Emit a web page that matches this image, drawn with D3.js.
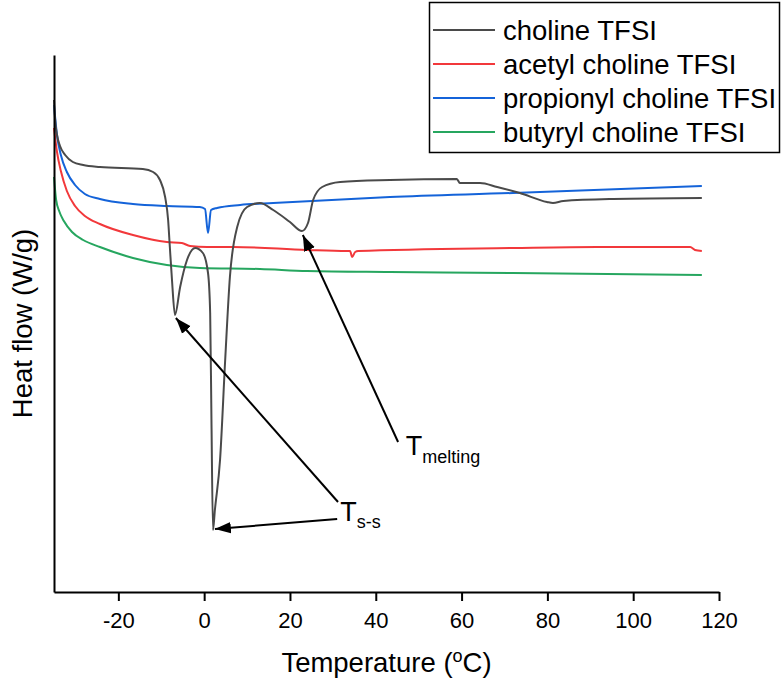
<!DOCTYPE html>
<html>
<head>
<meta charset="utf-8">
<script src="https://cdn.jsdelivr.net/npm/d3@7"></script>
<style>
  body { margin: 0; background: #fff; }
  svg { display: block; font-family: "Liberation Sans", Arial, sans-serif; }
</style>
</head>
<body>
<svg id="chart" width="783" height="679"></svg>
<script>
// DSC traces, temperature in °C, heat flow in arbitrary W/g units (no y ticks on the original)
const cholineT = [-35, -34.77, -34.3, -33.6, -32.4, -30.6, -28.2, -24.3, -14.3, -11.9, -10.3, -9.1, -8.4, -8.0, -7.5, -6.8, -5.6, -4.0, -2.1, -0.3, 0.9, 1.4, 1.7, 2.06, 2.5, 3.7, 4.9, 6.0, 7.7, 10.0, 13.0, 16.1, 20.0, 22.8, 24.2, 25.4, 27.5, 31.7, 43.3, 58.9, 59.6, 64.3, 68.3, 73.6, 79.9, 81.3, 83.7, 95.3, 116];
const cholineY = [-0.45, -0.63, -0.80, -0.91, -1.00, -1.07, -1.10, -1.12, -1.14, -1.17, -1.25, -1.42, -1.65, -1.92, -2.25, -2.60, -2.32, -2.05, -1.93, -1.98, -2.18, -2.58, -3.65, -4.75, -4.55, -4.05, -3.05, -2.22, -1.72, -1.52, -1.48, -1.55, -1.67, -1.76, -1.68, -1.45, -1.32, -1.27, -1.25, -1.24, -1.28, -1.28, -1.32, -1.38, -1.47, -1.48, -1.46, -1.44, -1.43];

const acetylT = [-35, -34.3, -33.4, -32.0, -30.1, -27.8, -24.3, -16.6, -8.7, -5.2, -3.3, 0.7, 6.7, 24.0, 33.3, 34.0, 34.5, 35.2, 35.9, 72.0, 91.6, 113.3, 114.4, 116];
const acetylY = [-0.73, -0.97, -1.16, -1.36, -1.51, -1.61, -1.69, -1.80, -1.87, -1.88, -1.91, -1.92, -1.92, -1.95, -1.96, -1.96, -2.02, -1.97, -1.96, -1.93, -1.92, -1.92, -1.95, -1.96];

const propionylT = [-35, -34.3, -33.4, -32.0, -30.1, -27.8, -24.3, -16.6, -8.7, -1.0, 0.2, 0.9, 1.6, 3.0, 8.4, 16.1, 43.3, 72.0, 116];
const propionylY = [-0.50, -0.80, -1.00, -1.17, -1.30, -1.39, -1.44, -1.49, -1.51, -1.52, -1.54, -1.78, -1.55, -1.53, -1.50, -1.48, -1.42, -1.38, -1.31];

const butyrylT = [-35, -34.5, -33.8, -32.7, -30.8, -28.2, -24.3, -16.6, -8.7, -1.0, 13.0, 24.0, 43.3, 72.0, 116];
const butyrylY = [-1.22, -1.45, -1.56, -1.66, -1.77, -1.85, -1.92, -2.03, -2.10, -2.13, -2.14, -2.16, -2.17, -2.18, -2.20];

const seriesNames = ["choline TFSI", "acetyl choline TFSI", "propionyl choline TFSI", "butyryl choline TFSI"];
const seriesColors = ["#4a4a4a", "#f2383b", "#1463d9", "#26a65f"];
const xTicks = [-20, 0, 20, 40, 60, 80, 100, 120];

// annotation arrows: [tail temp, tail flow, tip temp, tip flow]
const arrows = [
  [45.2, -3.87, 23.0, -1.80],
  [31.2, -4.47, -6.6, -2.63],
  [31.0, -4.64, 2.5, -4.74]
];

const svg = d3.select("#chart");
const x = d3.scaleLinear().domain([-35, 120]).range([54, 719]);
const y = d3.scaleLinear().domain([-5.37, 0]).range([592, 55]);

const series = [
  {T: cholineT, Y: cholineY},
  {T: acetylT, Y: acetylY},
  {T: propionylT, Y: propionylY},
  {T: butyrylT, Y: butyrylY}
];

const line = d3.line()
  .x(d => x(d[0]))
  .y(d => y(d[1]))
  .curve(d3.curveMonotoneX);

// black drawn last so it sits on top
[3, 1, 2, 0].forEach(i => {
  const s = series[i];
  svg.append("path")
    .datum(s.T.map((t, j) => [t, s.Y[j]]))
    .attr("fill", "none")
    .attr("stroke", seriesColors[i])
    .attr("stroke-width", 2)
    .attr("stroke-linejoin", "round")
    .attr("d", line);
});

// axes
const xAxis = svg.append("g")
  .attr("transform", `translate(0,${y.range()[0]})`)
  .call(d3.axisBottom(x).tickValues(xTicks).tickFormat(d => String(d))
    .tickSizeInner(9).tickSizeOuter(0).tickPadding(11));
xAxis.select(".domain").attr("stroke-width", 2);
xAxis.selectAll(".tick line").attr("stroke-width", 2);
xAxis.selectAll("text")
  .attr("font-size", 22)
  .attr("font-family", "\"Liberation Sans\", Arial, sans-serif")
  .attr("fill", "#000");

const yAxis = svg.append("g")
  .attr("transform", `translate(${x.range()[0]},0)`)
  .call(d3.axisLeft(y).tickValues([]).tickSizeOuter(0));
yAxis.select(".domain").attr("stroke-width", 2);

// axis titles
const xt = svg.append("text")
  .attr("x", (x.range()[0] + x.range()[1]) / 2)
  .attr("y", 672)
  .attr("text-anchor", "middle")
  .attr("font-size", 27.5);
xt.append("tspan").text("Temperature (");
xt.append("tspan").attr("font-size", 18).attr("dy", -10).text("o");
xt.append("tspan").attr("dy", 10).text("C)");

svg.append("text")
  .attr("transform", `translate(32,${(y.range()[0] + y.range()[1]) / 2}) rotate(-90)`)
  .attr("text-anchor", "middle")
  .attr("font-size", 27.5)
  .text("Heat flow (W/g)");

// arrows
svg.append("defs").append("marker")
  .attr("id", "head")
  .attr("viewBox", "0 0 10 10")
  .attr("refX", 10).attr("refY", 5)
  .attr("markerWidth", 8).attr("markerHeight", 8)
  .attr("markerUnits", "strokeWidth")
  .attr("orient", "auto")
  .append("path")
  .attr("d", "M0,1.4 L10,5 L0,8.6 Z")
  .attr("fill", "#000");

svg.selectAll(".arrow")
  .data(arrows)
  .join("line")
  .attr("class", "arrow")
  .attr("x1", d => x(d[0])).attr("y1", d => y(d[1]))
  .attr("x2", d => x(d[2])).attr("y2", d => y(d[3]))
  .attr("stroke", "#000")
  .attr("stroke-width", 2)
  .attr("marker-end", "url(#head)");

// T labels with subscripts
const tm = svg.append("text").attr("x", x(47.0)).attr("y", y(-4.0)).attr("font-size", 27);
tm.append("tspan").text("T");
tm.append("tspan").attr("font-size", 18).attr("dy", 8).text("melting");

const ts = svg.append("text").attr("x", x(31.7)).attr("y", y(-4.66)).attr("font-size", 27);
ts.append("tspan").text("T");
ts.append("tspan").attr("font-size", 18).attr("dy", 7).text("s-s");

// legend
const legend = svg.append("g");
legend.append("rect")
  .attr("x", 429.5).attr("y", 2.5)
  .attr("width", 350).attr("height", 150)
  .attr("fill", "#fff")
  .attr("stroke", "#000")
  .attr("stroke-width", 1.5);

const rows = legend.selectAll(".row")
  .data(seriesNames)
  .join("g")
  .attr("class", "row")
  .attr("transform", (d, i) => `translate(0,${30 + i * 34})`);
rows.append("line")
  .attr("x1", 433).attr("x2", 495)
  .attr("stroke", (d, i) => seriesColors[i])
  .attr("stroke-width", 2);
rows.append("text")
  .attr("x", 503)
  .attr("dy", "0.35em")
  .attr("font-size", 27.5)
  .text(d => d);
</script>
</body>
</html>
